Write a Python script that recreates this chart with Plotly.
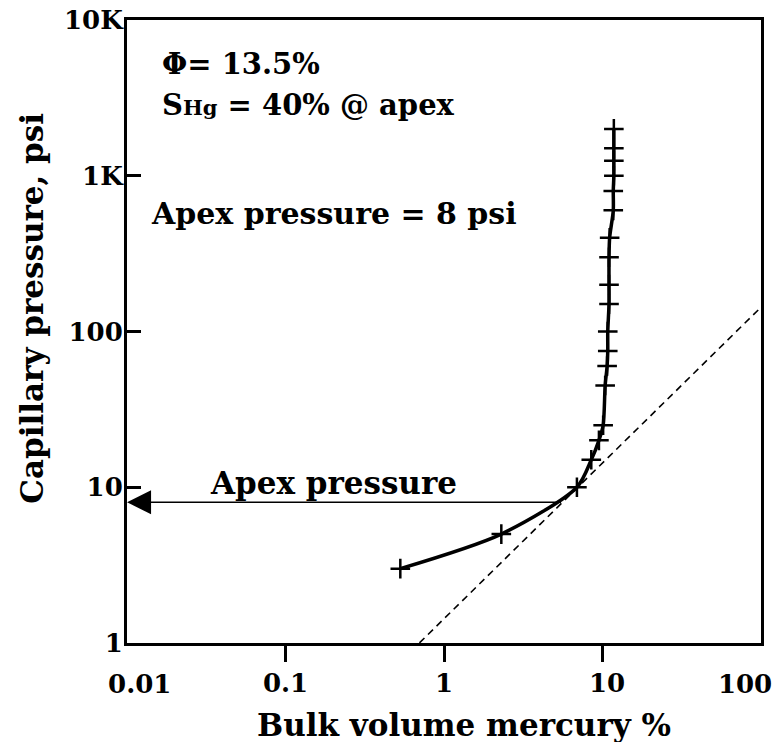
import plotly.graph_objects as go
import math

# Mercury injection data (bulk volume mercury %, capillary pressure psi)
bv_hg = [0.53, 2.3, 6.9, 8.5, 9.5, 10.1, 10.4, 10.7, 10.8, 10.8, 11.0, 11.0, 11.0, 11.1, 11.7, 11.7, 11.8, 11.8, 11.8, 11.8]
pc_psi = [3, 5, 10, 15, 20, 25, 45, 60, 75, 100, 150, 200, 300, 400, 600, 800, 1000, 1250, 1500, 2000]

# Hyperbola asymptote (dashed line) endpoints
asym_x = [0.7, 100]
asym_y = [1, 143]

# Apex
apex_x = 5.6
apex_p = 8

NB = "\u00a0"
x_mid_tickvals = [0.1, 1, 10]
x_mid_ticktext = ["0.1", "1", NB + "10"]
x_end_tickvals = [0.01, 100]
x_end_ticktext = ["0.01", "100"]
y_tickvals = [1, 10, 100, 1000, 10000]
y_ticktext = ["1", "10", "100", "1K", "10K"]

FONT = "DejaVu Serif"

fig = go.Figure()
fig.add_trace(go.Scatter(x=asym_x, y=asym_y, mode="lines",
                         line=dict(color="black", width=1.6, dash="7px,5px"),
                         showlegend=False, hoverinfo="skip"))
fig.add_trace(go.Scatter(x=bv_hg, y=pc_psi, mode="lines+markers",
                         line=dict(color="black", width=3.5, shape="spline", smoothing=0.8),
                         marker=dict(symbol="cross-thin", size=14, color="black",
                                     line=dict(color="black", width=2.5)),
                         showlegend=False))
# invisible traces to activate helper axes
fig.add_trace(go.Scatter(x=[1], y=[1], xaxis="x2", mode="markers",
                         marker=dict(opacity=0), showlegend=False, hoverinfo="skip"))
fig.add_trace(go.Scatter(x=[1], y=[1], xaxis="x3", mode="markers",
                         marker=dict(opacity=0), showlegend=False, hoverinfo="skip"))

xr = [math.log10(0.01) - 0.0005, math.log10(100) + 0.0005]
yr = [math.log10(1) - 0.0005, math.log10(10000) + 0.0005]
tickfont = dict(family=FONT, size=26, weight="bold")

fig.update_layout(
    width=774, height=742,
    margin=dict(l=127, r=13, t=20, b=99, autoexpand=False),
    paper_bgcolor="white", plot_bgcolor="rgba(0,0,0,0)",
    font=dict(family=FONT, color="black", size=22, weight="bold"),
    xaxis=dict(type="log", range=xr, tickvals=x_mid_tickvals, ticktext=x_mid_ticktext,
               showgrid=False, zeroline=False, showline=True, mirror=True,
               linecolor="black", linewidth=3, ticks="", ticklabelstandoff=15,
               automargin=False, tickfont=tickfont),
    xaxis2=dict(type="log", range=xr, overlaying="x", anchor="y",
                tickvals=[0.1, 1, 10], showticklabels=False, showgrid=False, automargin=False,
                zeroline=False, ticks="outside", ticklen=18, tickwidth=3, tickcolor="black"),
    xaxis3=dict(type="log", range=xr, domain=[0.02, 0.975], anchor="y",
                tickvals=x_end_tickvals, ticktext=x_end_ticktext, showgrid=False,
                zeroline=False, showline=False, ticks="", ticklabelstandoff=23,
                automargin=False, tickfont=tickfont),
    yaxis=dict(type="log", range=yr, tickvals=y_tickvals, ticktext=y_ticktext,
               showgrid=False, zeroline=False, showline=True, mirror=True,
               linecolor="black", linewidth=3, ticks="inside", ticklen=14, tickwidth=2.5,
               tickcolor="black", ticklabelstandoff=-4, ticklabeloverflow="allow", automargin=False,
               tickfont=tickfont),
)

ann = []
ann.append(dict(text="<b>Bulk volume mercury %</b>", xref="paper", yref="paper",
                x=0.531, y=-0.132, xanchor="center", yanchor="middle", showarrow=False,
                font=dict(family=FONT, size=31)))
ann.append(dict(text="<b>Capillary pressure, psi</b>", xref="paper", yref="paper",
                x=-0.15, y=0.538, xanchor="center", yanchor="middle", showarrow=False,
                textangle=-90, font=dict(family=FONT, size=31)))
ann.append(dict(text="<b>Φ= 13.5%</b>", xref="paper", yref="paper",
                x=0.052, y=0.93, xanchor="left", yanchor="middle", showarrow=False,
                font=dict(family=FONT, size=29)))
ann.append(dict(text="<b>S<span style='font-size:21px'>Hg</span> = 40% @ apex</b>", xref="paper", yref="paper",
                x=0.052, y=0.863, xanchor="left", yanchor="middle", showarrow=False,
                font=dict(family=FONT, size=29)))
ann.append(dict(text="<b>Apex pressure = 8 psi</b>", xref="paper", yref="paper",
                x=0.034, y=0.689, xanchor="left", yanchor="middle", showarrow=False,
                font=dict(family=FONT, size=30)))
ann.append(dict(text="<b>Apex pressure</b>", xref="x", yref="y",
                x=math.log10(0.2), y=math.log10(apex_p), xanchor="center", yanchor="bottom",
                yshift=-1, showarrow=False, font=dict(family=FONT, size=31)))
ann.append(dict(text="", xref="x", yref="y", axref="x", ayref="y",
                x=math.log10(0.01), y=math.log10(apex_p),
                ax=math.log10(apex_x), ay=math.log10(apex_p),
                showarrow=True, arrowhead=2, arrowsize=3.2, arrowwidth=1.5, arrowcolor="black"))
fig.update_layout(annotations=ann)

fig.write_html("out.html")
